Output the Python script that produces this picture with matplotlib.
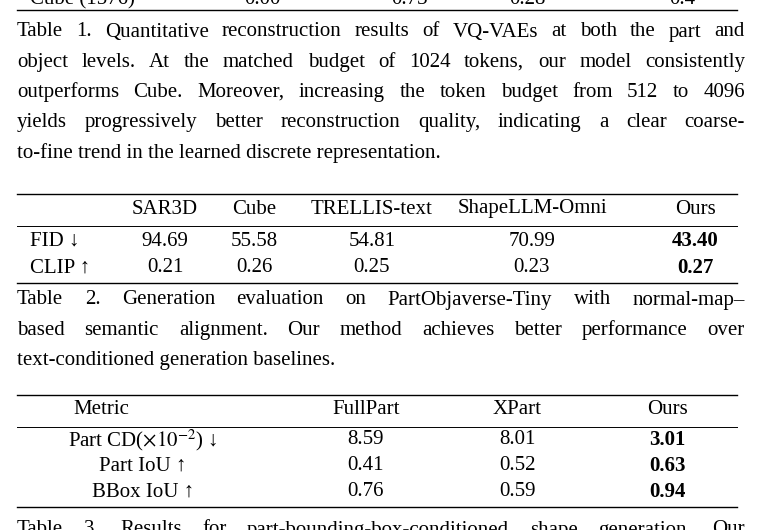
import matplotlib.pyplot as plt
from matplotlib.lines import Line2D

plt.rcParams['font.family'] = ['Liberation Serif', 'DejaVu Serif']
plt.rcParams['mathtext.fontset'] = 'stix'

W, H = 762, 530

# table 2 data
t2_methods = ["SAR3D", "Cube", "TRELLIS-text", "ShapeLLM-Omni", "Ours"]
t2_fid = ["94.69", "55.58", "54.81", "70.99", "43.40"]
t2_clip = ["0.21", "0.26", "0.25", "0.23", "0.27"]

# table 3 data
t3_methods = ["FullPart", "XPart", "Ours"]
t3_metrics = [r"Part CD($\times 10^{-2}$) ↓", "Part IoU ↑", "BBox IoU ↑"]
t3_values = [["8.59", "8.01", "3.01"],
             ["0.41", "0.52", "0.63"],
             ["0.76", "0.59", "0.94"]]

cap1 = ["Table 1.  Quantitative reconstruction results of VQ-VAEs at both the part and",
        "object levels. At the matched budget of 1024 tokens, our model consistently",
        "outperforms Cube. Moreover, increasing the token budget from 512 to 4096",
        "yields progressively better reconstruction quality, indicating a clear coarse-",
        "to-fine trend in the learned discrete representation."]
cap2 = ["Table 2.  Generation evaluation on PartObjaverse-Tiny with normal-map–",
        "based semantic alignment. Our method achieves better performance over",
        "text-conditioned generation baselines."]
cap3 = "Table 3.  Results for part-bounding-box-conditioned shape generation. Our"

fig = plt.figure(figsize=(W / 100, H / 100), dpi=100)
FS = 15
renderer = fig.canvas.get_renderer()


def txt(x, y, s, ha="left", **kw):
    return fig.text(x / W, 1 - y / H, s, ha=ha, va="center", fontsize=kw.pop("fs", FS), **kw)


def justified(x0, x1, y, line):
    words = line.split(" ")
    words = [w for w in words if w]
    arts = [txt(0, y, w) for w in words]
    widths = [a.get_window_extent(renderer).width for a in arts]
    gap = (x1 - x0 - sum(widths)) / max(len(words) - 1, 1)
    x = x0
    for a, w in zip(arts, widths):
        a.set_x(x / W)
        x += w + gap


def rule(y, x0=17, x1=737, lw=1.0):
    fig.add_artist(Line2D([x0 / W, x1 / W], [1 - y / H, 1 - y / H], color="black", lw=lw))


# cut-off row of table 1
txt(30, 0, "Cube (1576)")
for x, v in zip([262, 410, 527, 682], ["0.00", "0.73", "0.28", "0.4"]):
    txt(x, 0, v, ha="center")
rule(10)

for i, line in enumerate(cap1):
    y = 32 + 30.2 * i
    if i < len(cap1) - 1:
        justified(17, 745, y, line)
    else:
        txt(17, y, line)

# table 2
rule(194)
t2_x = [165, 254, 372, 532, 695]
for x, m in zip(t2_x, t2_methods):
    txt(x, 209, m, ha="center")
rule(226, lw=0.7)
for y, lab, vals in [(241, "FID ↓", t2_fid), (268, "CLIP ↑", t2_clip)]:
    txt(30, y, lab)
    for j, (x, v) in enumerate(zip(t2_x, vals)):
        txt(x, y, v, ha="center", fontweight="bold" if j == len(vals) - 1 else "normal")
rule(283)

for i, line in enumerate(cap2):
    y = 300 + 30.5 * i
    if i < len(cap2) - 1:
        justified(17, 745, y, line)
    else:
        txt(17, y, line)

# table 3
rule(395)
txt(73, 410, "Metric")
t3_x = [366, 517, 667]
for x, m in zip(t3_x, t3_methods):
    txt(x, 410, m, ha="center")
rule(427, lw=0.7)
for i, (lab, vals) in enumerate(zip(t3_metrics, t3_values)):
    y = 440 + 26 * i
    txt(143, y, lab, ha="center")
    for j, (x, v) in enumerate(zip(t3_x, vals)):
        txt(x, y, v, ha="center", fontweight="bold" if j == 2 else "normal")
rule(507)

justified(17, 745, 530, cap3)

fig.savefig("out.png", dpi=100)
